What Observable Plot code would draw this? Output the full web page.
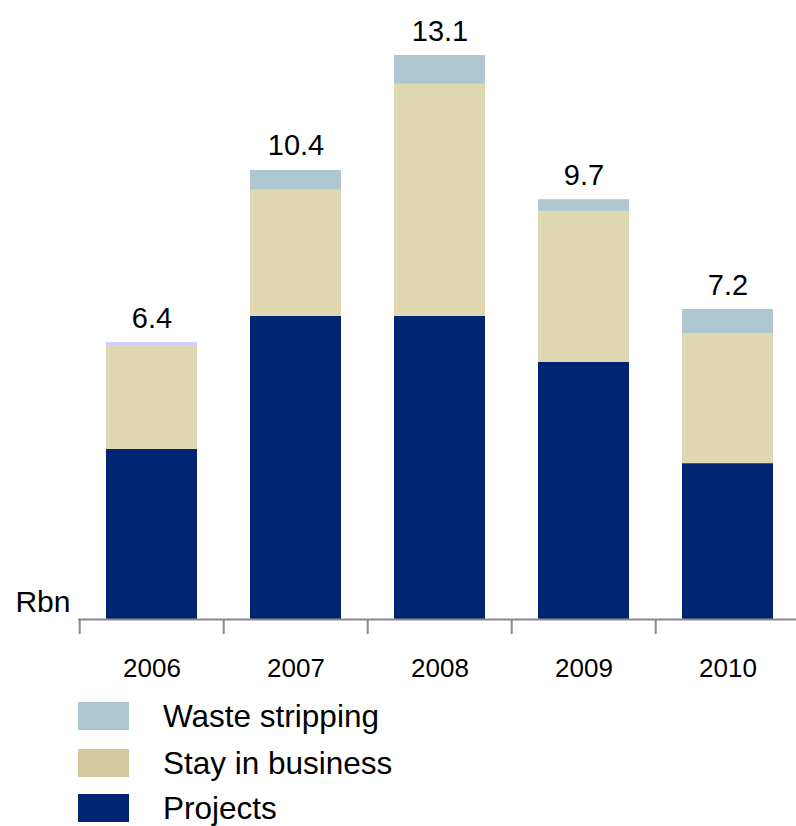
<!DOCTYPE html>
<html><head><meta charset="utf-8">
<script src="https://cdn.jsdelivr.net/npm/d3@7"></script>
<script src="https://cdn.jsdelivr.net/npm/@observablehq/plot@0.6"></script>
<style>
body{margin:0;background:#fff;font-family:"Liberation Sans",Arial,sans-serif;}
#chart{position:relative;width:796px;height:826px;overflow:hidden;background:#fff}
.row{display:flex;align-items:center;height:28px;position:absolute;left:78px}
.sw{width:51px;height:28px}
.lab{margin-left:34px;font-size:31.5px;color:#000;white-space:nowrap}
</style></head><body><div id="chart"></div>
<script>
const years = ["2006","2007","2008","2009","2010"];
const projects = [3.95, 7.04, 7.04, 5.97, 3.62];
const stayInBusiness = [2.41, 2.93, 5.39, 3.51, 3.02];
const wasteStripping = [0.07, 0.46, 0.67, 0.27, 0.56];
const totals = [6.4, 10.4, 13.1, 9.7, 7.2];
const seriesNames = ["Projects", "Stay in business", "Waste stripping"];
const seriesColors = ["#002673", "#E0D8B0", "#ADC6CF"];
const legendColors = ["#002673", "#D3C99E", "#ADC6CF"];
const oddWasteColor = "#CCCCFF";

const seriesValues = [projects, stayInBusiness, wasteStripping];
const data = [];
seriesNames.forEach((s, si) => years.forEach((y, i) => data.push({year: y, series: s, value: seriesValues[si][i], si})));
const tops = years.map((y, i) => ({year: y, top: projects[i] + stayInBusiness[i] + wasteStripping[i], label: totals[i].toFixed(1)}));

const x0 = 78, x1 = 801;
const step = (x1 - x0) / 5;

const chart = Plot.plot({
  width: 796,
  height: 690,
  marginLeft: 78,
  marginRight: 0,
  marginTop: 0,
  marginBottom: 71,
  x: {domain: years, range: [x0, x1], paddingInner: 0.37, paddingOuter: 0.185, axis: null},
  y: {domain: [0, 13.1], range: [619, 55], axis: null},
  style: {fontFamily: "Liberation Sans, Arial, sans-serif", background: "#fff", overflow: "visible"},
  marks: [
    Plot.barY(data, {x: "year", y: "value",
      fill: d => (d.series === "Waste stripping" && d.year === "2006") ? oddWasteColor : seriesColors[d.si]}),
    Plot.text(tops, {x: "year", y: "top", text: "label", lineAnchor: "bottom", dy: -15, fontSize: 29, fill: "#000"}),
    Plot.ruleY([0], {stroke: "#888", strokeWidth: 2}),
    Plot.ruleX(years, {x: d => d, y1: 0, y2: -0.35, dx: -step / 2, stroke: "#888", strokeWidth: 2}),
    Plot.axisX({tickSize: 0, tickPadding: 39, fontSize: 26, fill: "#000", label: null}),
    Plot.text(["Rbn"], {frameAnchor: "bottom-left", textAnchor: "end", lineAnchor: "bottom", dx: -8, dy: -8, fontSize: 30, fill: "#000"})
  ]
});
const root = document.getElementById("chart");
root.appendChild(chart);

const legendTops = [702, 749, 794];
const legendOrder = [2, 1, 0];
legendOrder.forEach((si, k) => {
  const row = document.createElement("div");
  row.className = "row";
  row.style.top = legendTops[k] + "px";
  const sw = document.createElement("div");
  sw.className = "sw";
  sw.style.background = legendColors[si];
  const lab = document.createElement("span");
  lab.className = "lab";
  lab.textContent = seriesNames[si];
  row.appendChild(sw); row.appendChild(lab);
  root.appendChild(row);
});
</script></body></html>
